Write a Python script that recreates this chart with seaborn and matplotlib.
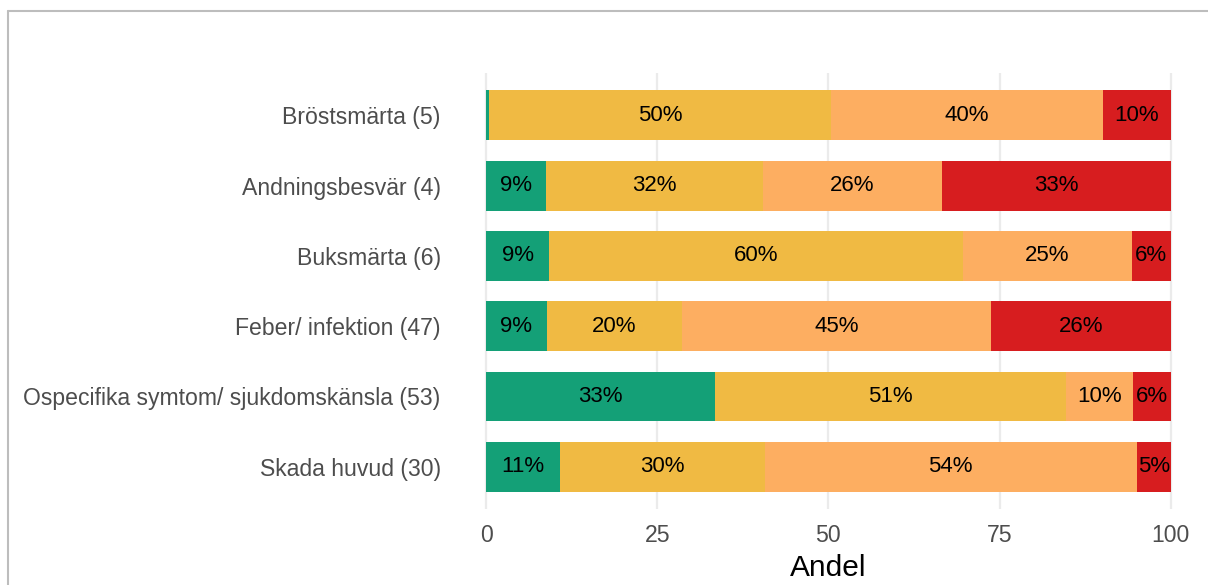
import matplotlib
matplotlib.use("Agg")
import matplotlib.pyplot as plt
import seaborn as sns
import pandas as pd
import numpy as np
from matplotlib.lines import Line2D

categories = [
    "Bröstsmärta (5)",
    "Andningsbesvär (4)",
    "Buksmärta (6)",
    "Feber/ infektion (47)",
    "Ospecifika symtom/ sjukdomskänsla (53)",
    "Skada huvud (30)",
]
green = [0.4, 8.8, 9.2, 8.9, 33.4, 10.8]
yellow = [50.0, 31.6, 60.4, 19.7, 51.3, 29.9]
orange = [39.7, 26.2, 24.7, 45.1, 9.8, 54.3]
red = [9.9, 33.4, 5.7, 26.3, 5.6, 5.0]
xticks = [0, 25, 50, 75, 100]
xlabel = "Andel"

series = [green, yellow, orange, red]
colors = ["#14A077", "#F0BA43", "#FDAE61", "#D71D1F"]

sns.set_theme(style="white")
plt.rcParams["font.family"] = ["Liberation Sans", "DejaVu Sans"]

fig = plt.figure(figsize=(12.08, 5.85), dpi=100)
ax = fig.add_axes([0.374, 0.130, 0.6235, 0.745])

cum = np.cumsum(np.array(series), axis=0)
# draw cumulative bars from largest to smallest so each segment is visible
for i in range(len(series) - 1, -1, -1):
    df = pd.DataFrame({"cat": categories, "val": cum[i]})
    sns.barplot(data=df, x="val", y="cat", orient="h", color=colors[i],
                width=0.71, saturation=1, linewidth=0, ax=ax, zorder=2)

for i in range(len(series)):
    for j, cat in enumerate(categories):
        v = series[i][j]
        if v < 3:
            continue
        ax.text(cum[i][j] - v / 2, j, f"{v:.0f}%", ha="center", va="center",
                fontsize=16, color="black", zorder=5)

ax.set_xlim(-5, 105)
ax.set_ylim(len(categories) - 0.4, -0.6)
ax.set_xticks(xticks)
ax.set_xticklabels([str(t) for t in xticks])
ax.tick_params(axis="both", length=0, labelsize=16.6, labelcolor="#4D4D4D")
ax.tick_params(axis="y", pad=8)
ax.tick_params(axis="x", pad=11)
ax.set_ylabel("")
ax.set_xlabel(xlabel, fontsize=21.5, color="black", labelpad=5)
ax.grid(False)
for x in xticks:
    ax.axvline(x, color="#EBEBEB", lw=1.6, zorder=0)
for s in ax.spines.values():
    s.set_visible(False)

# outer frame (top and left)
fig.add_artist(Line2D([8 / 1208, 1.0], [1 - 11 / 585, 1 - 11 / 585],
                      transform=fig.transFigure, color="#BDBDBD", lw=1.5))
fig.add_artist(Line2D([8 / 1208, 8 / 1208], [0, 1 - 11 / 585],
                      transform=fig.transFigure, color="#BDBDBD", lw=1.5))

fig.savefig("out.png", dpi=100)
